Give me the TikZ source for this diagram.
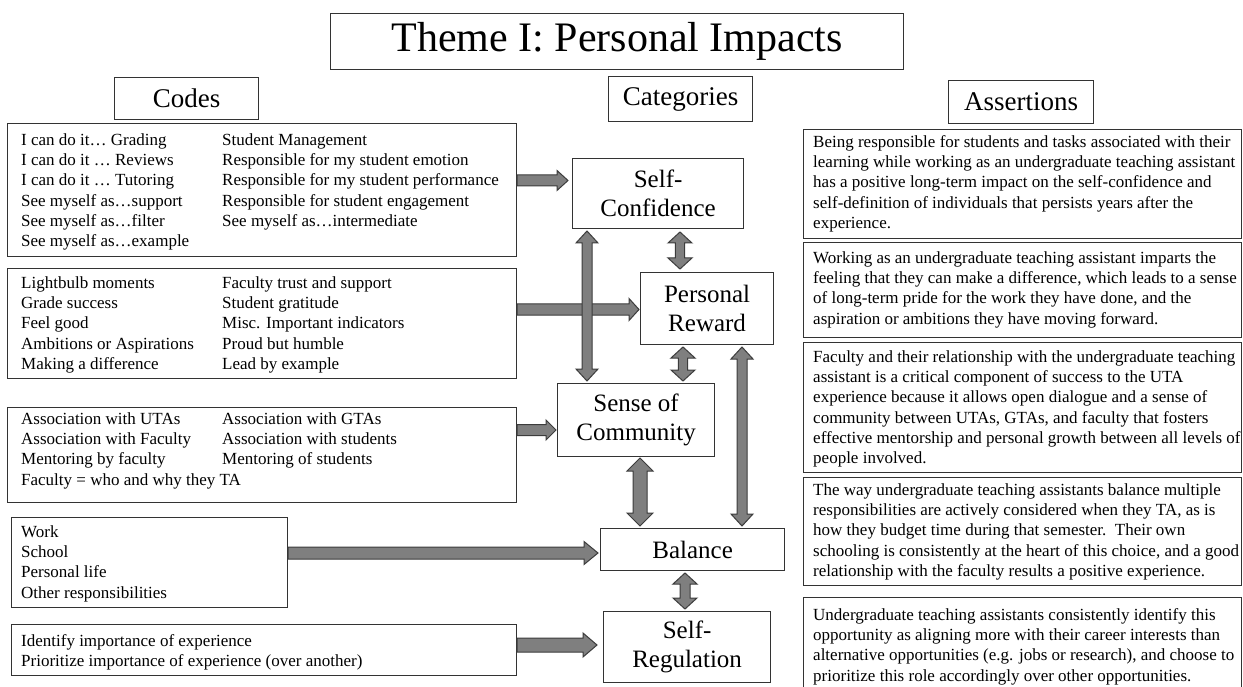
\documentclass[tikz,border=0pt]{standalone}
\usepackage{fontspec}
\setmainfont{Liberation Serif}
\usetikzlibrary{calc}
\definecolor{arrfill}{HTML}{7F7F7F}
\definecolor{arrline}{HTML}{3C3C3C}
\definecolor{boxline}{HTML}{333333}
\newcommand{\blkarrow}[5]{%
  \coordinate (hb) at ($(#2)!#5!(#1)$);
  \filldraw[arr] ($(#1)!#3!90:(#2)$) -- ($(hb)!#3!90:(#2)$) -- ($(hb)!#4!90:(#2)$) -- (#2)
    -- ($(hb)!#4!-90:(#2)$) -- ($(hb)!#3!-90:(#2)$) -- ($(#1)!#3!-90:(#2)$) -- cycle;}
\newcommand{\dblarrow}[5]{%
  \coordinate (hb) at ($(#2)!#5!(#1)$);
  \coordinate (ha) at ($(#1)!#5!(#2)$);
  \filldraw[arr] (#1) -- ($(ha)!#4!90:(#2)$) -- ($(ha)!#3!90:(#2)$) -- ($(hb)!#3!90:(#2)$)
    -- ($(hb)!#4!90:(#2)$) -- (#2) -- ($(hb)!#4!-90:(#2)$) -- ($(hb)!#3!-90:(#2)$)
    -- ($(ha)!#3!-90:(#2)$) -- ($(ha)!#4!-90:(#2)$) -- cycle;}
\tikzset{
  box/.style={draw=boxline, line width=1.2pt, fill=white, inner sep=0pt, anchor=north west},
  header/.style={box, font=\fontsize{27}{30}\selectfont},
  cat/.style={box, align=center, font=\fontsize{25}{29}\selectfont},
  codetext/.style={anchor=north west, inner sep=0pt, align=left, font=\fontsize{17}{20.3}\selectfont},
  arr/.style={fill=arrfill, draw=arrline, line width=1pt},
}
\newcommand{\fl}{\rule{0pt}{12pt}}
\begin{document}
\begin{tikzpicture}[x=1pt, y=-1pt]
\useasboundingbox (0,0) rectangle (1243,687);
\fill[white] (0,0) rectangle (1243,687);

% title and headers
\node[box, minimum width=573pt, minimum height=56pt, font=\fontsize{42}{46}\selectfont] (title) at (330,13) {Theme I: Personal Impacts};
\node[header, minimum width=144pt, minimum height=42pt] (codesh) at (114,77) {Codes};
\node[header, minimum width=144pt, minimum height=45pt] (cath) at (608,76) {Categories};
\node[header, minimum width=145pt, minimum height=43pt] (assh) at (948,80) {Assertions};

% code boxes
\node[box, minimum width=509pt, minimum height=133pt] (c1) at (7,123) {};
\node[box, minimum width=509pt, minimum height=110pt] (c2) at (7,268) {};
\node[box, minimum width=509pt, minimum height=95pt] (c3) at (7,407) {};
\node[box, minimum width=276pt, minimum height=90pt] (c4) at (11,517) {};
\node[box, minimum width=505pt, minimum height=51pt] (c5) at (11,624) {};

\node[codetext] (c1a) at (21,133) {\fl I can do it\ldots{} Grading\\I can do it \ldots{} Reviews\\I can do it \ldots{} Tutoring\\See myself as\ldots support\\See myself as\ldots filter\\See myself as\ldots example};
\node[codetext] (c1b) at (222,133) {\fl Student Management\\Responsible for my student emotion\\Responsible for my student performance\\Responsible for student engagement\\See myself as\ldots intermediate};
\node[codetext] (c2a) at (21,276) {\fl Lightbulb moments\\Grade success\\Feel good\\Ambitions or Aspirations\\Making a difference};
\node[codetext] (c2b) at (222,276) {\fl Faculty trust and support\\Student gratitude\\Misc. Important indicators\\Proud but humble\\Lead by example};
\node[codetext] (c3a) at (21,412) {\fl Association with UTAs\\Association with Faculty\\Mentoring by faculty\\Faculty = who and why they TA};
\node[codetext] (c3b) at (222,412) {\fl Association with GTAs\\Association with students\\Mentoring of students};
\node[codetext] (c4a) at (21,525) {\fl Work\\School\\Personal life\\Other responsibilities};
\node[codetext] (c5a) at (21,634) {\fl Identify importance of experience\\Prioritize importance of experience (over another)};

% category boxes
\node[cat, minimum width=171pt, minimum height=70pt] (sc) at (572,158) {Self-\\Confidence};
\node[cat, minimum width=133pt, minimum height=72pt] (pr) at (640,272) {Personal\\Reward};
\node[cat, minimum width=157pt, minimum height=73pt] (soc) at (557,383) {Sense of\\Community};
\node[cat, minimum width=184pt, minimum height=42pt] (bal) at (600,528) {Balance};
\node[cat, minimum width=167pt, minimum height=71pt] (sr) at (603,611) {Self-\\Regulation};

% assertion boxes
\node[box, minimum width=438pt, minimum height=109pt] (a1) at (803,129) {};
\node[box, minimum width=438pt, minimum height=95pt] (a2) at (803,242) {};
\node[box, minimum width=438pt, minimum height=130pt] (a3) at (803,342) {};
\node[box, minimum width=438pt, minimum height=108pt] (a4) at (803,477) {};
\node[box, minimum width=438pt, minimum height=91pt] (a5) at (803,597) {};

\node[codetext] (a1t) at (813,135) {\fl Being responsible for students and tasks associated with their\\learning while working as an undergraduate teaching assistant\\has a positive long-term impact on the self-confidence and\\self-definition of individuals that persists years after the\\experience.};
\node[codetext] (a2t) at (813,251) {\fl Working as an undergraduate teaching assistant imparts the\\feeling that they can make a difference, which leads to a sense\\of long-term pride for the work they have done, and the\\aspiration or ambitions they have moving forward.};
\node[codetext] (a3t) at (813,350) {\fl Faculty and their relationship with the undergraduate teaching\\assistant is a critical component of success to the UTA\\experience because it allows open dialogue and a sense of\\community between UTAs, GTAs, and faculty that fosters\\effective mentorship and personal growth between all levels of\\people involved.};
\node[codetext] (a4t) at (813,483) {\fl The way undergraduate teaching assistants balance multiple\\responsibilities are actively considered when they TA, as is\\how they budget time during that semester.\ \ Their own\\schooling is consistently at the heart of this choice, and a good\\relationship with the faculty results a positive experience.};
\node[codetext] (a5t) at (813,608) {\fl Undergraduate teaching assistants consistently identify this\\opportunity as aligning more with their career interests than\\alternative opportunities (e.g. jobs or research), and choose to\\prioritize this role accordingly over other opportunities.};

% arrow end points
\coordinate (p1s) at (c1.east |- 0,180.5);
\coordinate (p1e) at (568,180.5);
\coordinate (p2s) at (c2.east |- 0,309.5);
\coordinate (p2e) at (639,309.5);
\coordinate (p3s) at (c3.east |- 0,430);
\coordinate (p3e) at (556,430);
\coordinate (p4s) at (c4.east |- 0,553);
\coordinate (p4e) at (598,553);
\coordinate (p5s) at (c5.east |- 0,645);
\coordinate (p5e) at (597,645);
\coordinate (q1s) at (680,232);
\coordinate (q1e) at (680,269);
\coordinate (q2s) at (587,231);
\coordinate (q2e) at (587,381);
\coordinate (q3s) at (683,347);
\coordinate (q3e) at (683,381);
\coordinate (q4s) at (742,347);
\coordinate (q4e) at (742,526);
\coordinate (q5s) at (640,458);
\coordinate (q5e) at (640,526);
\coordinate (q6s) at (685,573);
\coordinate (q6e) at (685,609);

% arrows
\blkarrow{p1s}{p1e}{5.5pt}{10pt}{11pt}
\blkarrow{p2s}{p2e}{5.5pt}{11pt}{10pt}
\blkarrow{p3s}{p3e}{5.5pt}{10pt}{10pt}
\blkarrow{p4s}{p4e}{6pt}{11.5pt}{14pt}
\blkarrow{p5s}{p5e}{7pt}{12pt}{14pt}
\dblarrow{q1s}{q1e}{4.7pt}{12pt}{11pt}
\dblarrow{q2s}{q2e}{5pt}{11pt}{12pt}
\dblarrow{q3s}{q3e}{4.7pt}{12pt}{11pt}
\dblarrow{q4s}{q4e}{5pt}{11pt}{12pt}
\dblarrow{q5s}{q5e}{7pt}{13pt}{13pt}
\dblarrow{q6s}{q6e}{5pt}{12pt}{11pt}
\end{tikzpicture}
\end{document}
